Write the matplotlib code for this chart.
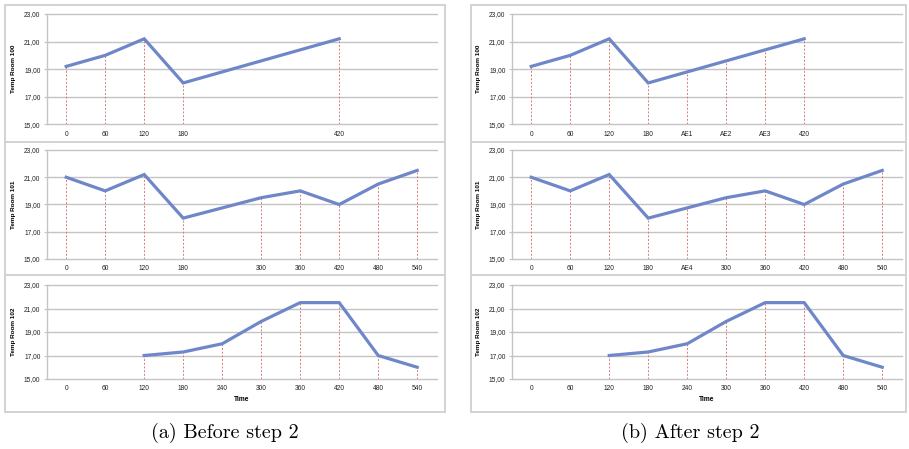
import numpy as np
import matplotlib
matplotlib.use("Agg")
import matplotlib.pyplot as plt
from matplotlib.patches import Rectangle

# ---------------- data ----------------
labels_100_a = ['0', '60', '120', '180', '', '', '', '420', '', '']
labels_100_b = ['0', '60', '120', '180', 'AE1', 'AE2', 'AE3', '420', '', '']
labels_101_a = ['0', '60', '120', '180', '', '300', '360', '420', '480', '540']
labels_101_b = ['0', '60', '120', '180', 'AE4', '300', '360', '420', '480', '540']
labels_102 = ['0', '60', '120', '180', '240', '300', '360', '420', '480', '540']

nan = np.nan
room100_a = [19.2, 20.0, 21.2, 18.0, nan, nan, nan, 21.2, nan, nan]
room100_b = [19.2, 20.0, 21.2, 18.0, 18.8, 19.6, 20.4, 21.2, nan, nan]
room101_a = [21.0, 20.0, 21.2, 18.0, nan, 19.5, 20.0, 19.0, 20.5, 21.5]
room101_b = [21.0, 20.0, 21.2, 18.0, 18.75, 19.5, 20.0, 19.0, 20.5, 21.5]
room102 = [nan, nan, 17.0, 17.3, 18.0, 19.9, 21.5, 21.5, 17.0, 16.0]

y_ticks = [15, 17, 19, 21, 23]
ylabels = ['Temp Room 100', 'Temp Room 101', 'Temp Room 102']
captions = ['(a) Before step 2', '(b) After step 2']

# ---------------- layout ----------------
W, H = 909, 449
fig = plt.figure(figsize=(W / 100, H / 100), dpi=100)

LINE = '#6f87c9'
DROP = '#d97a7a'
GRID = '#c4c4c4'
BOX = '#d2d2d2'
TFONT = ['Liberation Sans Narrow', 'Liberation Sans', 'DejaVu Sans']

def fx(px):
    return px / W

def fy(py):
    return 1 - py / H

# panel vertical extents (y of 23 and y of 15, pixels from top)
panel_y = [(14, 124.3), (150, 259), (285, 379)]
col_x = [46.7, 511.7]
plot_w = 390

panels = [
    [(labels_100_a, room100_a), (labels_101_a, room101_a), (labels_102, room102)],
    [(labels_100_b, room100_b), (labels_101_b, room101_b), (labels_102, room102)],
]

for c in range(2):
    for r in range(3):
        labels, vals = panels[c][r]
        top, bot = panel_y[r]
        ax = fig.add_axes([fx(col_x[c]), fy(bot), fx(plot_w), (bot - top) / H])
        n = len(labels)
        x = np.arange(n)
        v = np.array(vals, dtype=float)
        ok = ~np.isnan(v)
        for xi, vi in zip(x[ok], v[ok]):
            ax.plot([xi, xi], [15, vi], color=DROP, lw=0.7, dashes=(2.0, 1.8), zorder=2)
        ax.plot(x[ok], v[ok], color=LINE, lw=2.3, solid_joinstyle='miter', zorder=3)
        ax.set_xlim(-0.5, n - 0.5)
        ax.set_ylim(15, 23)
        ax.set_yticks(y_ticks)
        ax.set_yticklabels([f"{t:.2f}".replace('.', ',') for t in y_ticks],
                           fontsize=4.8, family=TFONT, color='#222222')
        ax.set_xticks(x)
        ax.set_xticklabels(labels, fontsize=4.8, family=TFONT, color='#222222')
        ax.tick_params(axis='x', length=0, pad=4.5)
        ax.tick_params(axis='y', length=2.5, width=0.8, color=GRID, pad=2)
        for yt in y_ticks:
            ax.axhline(yt, color=GRID, lw=1.0, zorder=1, clip_on=False)
        for s in ['top', 'right', 'bottom']:
            ax.spines[s].set_visible(False)
        ax.spines['left'].set_color(GRID)
        ax.spines['left'].set_linewidth(1.0)
        ax.set_ylabel(ylabels[r], fontsize=4.6, family=TFONT, fontweight='bold', labelpad=6)
        if r == 2:
            ax.set_xlabel('Time', fontsize=4.8, family=TFONT, fontweight='bold', labelpad=3)
        ax.set_facecolor('none')

# outer boxes and separators
box_x = [(5, 445), (470.7, 906)]
for (x0, x1) in box_x:
    fig.patches.append(Rectangle((fx(x0), fy(411.7)), fx(x1 - x0), (411.7 - 5) / H,
                                 transform=fig.transFigure, fill=False,
                                 edgecolor=BOX, lw=1.4))
    for ys in (141.7, 275):
        fig.add_artist(plt.Line2D([fx(x0), fx(x1)], [fy(ys), fy(ys)],
                                  transform=fig.transFigure, color=BOX, lw=1.4))

cap_x = [225, 690]
for cx, t in zip(cap_x, captions):
    fig.text(fx(cx), fy(433), t, ha='center', va='center', fontsize=14.5, family='cmr10')

fig.savefig('out.png', dpi=100)
